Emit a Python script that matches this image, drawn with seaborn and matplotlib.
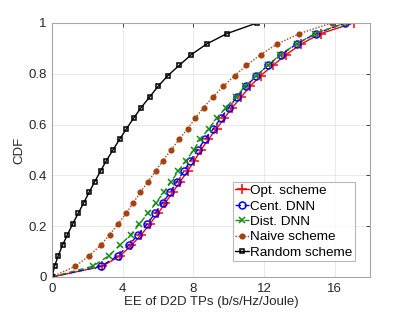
import numpy as np
import pandas as pd
import matplotlib
matplotlib.use("Agg")
import matplotlib.pyplot as plt
import seaborn as sns

# CDF levels shared by every curve
cdf_levels = [0.0, 0.042, 0.083, 0.125, 0.167, 0.208, 0.25, 0.292, 0.333, 0.375,
              0.417, 0.458, 0.5, 0.542, 0.583, 0.625, 0.667, 0.708, 0.75, 0.792,
              0.833, 0.875, 0.917, 0.958, 1.0]

# EE values (b/s/Hz/Joule) read at each CDF level
ee_opt = [0, 2.85, 3.85, 4.5, 5.06, 5.53, 6.0, 6.42, 6.83, 7.25, 7.68, 8.06, 8.43,
          8.85, 9.31, 9.75, 10.2, 10.7, 11.2, 11.8, 12.5, 13.25, 14.1, 15.2, 17.07]
ee_cent = [0, 2.77, 3.72, 4.34, 4.89, 5.38, 5.83, 6.26, 6.7, 7.06, 7.47, 7.83, 8.24,
           8.66, 9.13, 9.55, 10.0, 10.46, 11.0, 11.55, 12.22, 12.97, 13.84, 14.93, 16.6]
ee_dist = [0, 2.3, 3.21, 3.85, 4.47, 4.94, 5.42, 5.89, 6.32, 6.74, 7.15, 7.59, 8.02,
           8.39, 8.86, 9.33, 9.84, 10.4, 10.92, 11.55, 12.24, 12.9, 13.84, 14.87, 16.6]
ee_naive = [0, 1.32, 2.1, 2.75, 3.27, 3.73, 4.19, 4.6, 5.0, 5.43, 5.87, 6.27, 6.74,
            7.2, 7.67, 8.11, 8.58, 9.1, 9.69, 10.33, 11.0, 11.8, 12.74, 14.0, 15.82]
ee_random = [0, 0.15, 0.35, 0.6, 0.88, 1.17, 1.48, 1.8, 2.1, 2.42, 2.75, 3.08, 3.45,
             3.83, 4.21, 4.62, 5.05, 5.52, 6.0, 6.55, 7.2, 7.88, 8.75, 9.9, 11.6]

# name, values, color, linestyle, marker, markersize, filled
series = [
    ("Opt. scheme", ee_opt, "#ff0000", "-", "+", 6.5, True),
    ("Cent. DNN", ee_cent, "#0000ff", (0, (4, 2.5)), "o", 5, False),
    ("Dist. DNN", ee_dist, "#128c12", (0, (4, 2.5)), "x", 4, True),
    ("Naive scheme", ee_naive, "#a5420f", (0, (1, 1.2)), "o", 3.3, True),
    ("Random scheme", ee_random, "#000000", "-", "s", 3.5, False),
]

sns.set_style("whitegrid")
plt.rcParams["font.family"] = ["Liberation Sans", "DejaVu Sans"]

fig = plt.figure(figsize=(4.09, 3.14), dpi=100)
ax = fig.add_axes([0.127, 0.118, 0.778, 0.809])

for name, vals, col, ls, mk, ms, filled in series:
    sns.lineplot(x=vals, y=cdf_levels, ax=ax, sort=False, label=name, color=col, lw=1.0)
    line = ax.lines[-1]
    line.set_linestyle(ls)
    line.set_marker(mk)
    line.set_markersize(ms)
    line.set_markeredgecolor(col)
    line.set_markerfacecolor(col if filled else "none")
    line.set_markeredgewidth(1.1)

ax.set_xlim(0, 18)
ax.set_ylim(0, 1)
ax.set_xticks([0, 4, 8, 12, 16])
ax.set_yticks([0, 0.2, 0.4, 0.6, 0.8, 1.0])
ax.set_yticklabels(["0", "0.2", "0.4", "0.6", "0.8", "1"])
ax.tick_params(labelsize=9.5, colors="#262626", direction="in", length=3, width=0.6,
               pad=4, top=True, right=True)
ax.grid(True, color="#e6e6e6", lw=0.6)
for sp in ax.spines.values():
    sp.set_color("#a6a6a6")
    sp.set_linewidth(0.8)

ax.set_xlabel("EE of D2D TPs (b/s/Hz/Joule)", fontsize=9.5, color="#262626", labelpad=1)
ax.set_ylabel("CDF", fontsize=9.5, color="#262626", labelpad=2)

leg = ax.legend(loc="lower right", bbox_to_anchor=(0.965, 0.045), fontsize=9.7,
                frameon=True, fancybox=False, handlelength=1.0, handletextpad=0.1,
                borderpad=0.2, labelspacing=0.22, borderaxespad=0.3)
leg.get_frame().set_edgecolor("#a6a6a6")
leg.get_frame().set_linewidth(0.8)
for t in leg.get_texts():
    t.set_color("#000000")

fig.savefig("out.png", dpi=100)
